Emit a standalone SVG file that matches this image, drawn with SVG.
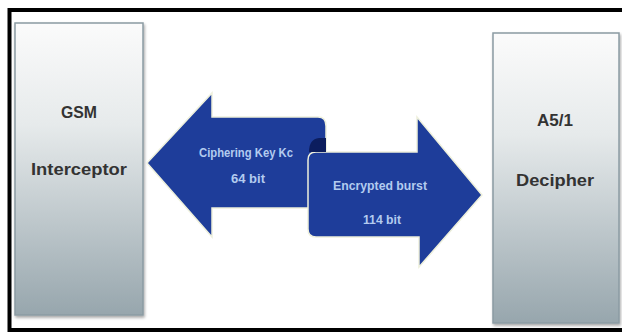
<svg xmlns="http://www.w3.org/2000/svg" width="622" height="332" viewBox="0 0 622 332">
<defs>
<linearGradient id="boxg" x1="0" y1="0" x2="0" y2="1">
<stop offset="0" stop-color="#fbfbfb"/>
<stop offset="0.35" stop-color="#e6eaeb"/>
<stop offset="1" stop-color="#97a6ad"/>
</linearGradient>
<filter id="sh" x="-10%" y="-10%" width="130%" height="130%">
<feGaussianBlur in="SourceAlpha" stdDeviation="1.5"/>
<feOffset dx="1" dy="2"/>
<feComponentTransfer><feFuncA type="linear" slope="0.35"/></feComponentTransfer>
<feMerge><feMergeNode/><feMergeNode in="SourceGraphic"/></feMerge>
</filter>
</defs>
<style>
.box{fill:url(#boxg);stroke:#8b9ba3;stroke-width:1.5;filter:url(#sh)}
.btxt{font-family:"Liberation Sans Narrow","Liberation Sans",Arial,sans-serif;font-size:17px;font-weight:bold;fill:#333;text-anchor:middle}
.arr{fill:#1e3d9a;stroke:#eef0dc;stroke-width:1.5;stroke-linejoin:miter}
.atxt{font-family:"Liberation Sans Narrow","Liberation Sans",Arial,sans-serif;font-size:13px;font-weight:bold;fill:#b3cbef;text-anchor:middle}
</style>
<rect x="0" y="0" width="622" height="332" fill="#ffffff"/>
<rect x="9.5" y="10" width="640" height="320" fill="none" stroke="#000" stroke-width="4"/>
<g id="gsm">
<rect class="box" x="15" y="23" width="128" height="292"/>
<text class="btxt" x="79" y="118" textLength="36" lengthAdjust="spacingAndGlyphs">GSM</text>
<text class="btxt" x="79" y="175" textLength="96" lengthAdjust="spacingAndGlyphs">Interceptor</text>
</g>
<g id="a51">
<rect class="box" x="493" y="33" width="126" height="290"/>
<text class="btxt" x="555" y="126" textLength="36" lengthAdjust="spacingAndGlyphs">A5/1</text>
<text class="btxt" x="555" y="186" textLength="78" lengthAdjust="spacingAndGlyphs">Decipher</text>
</g>
<g id="connectors">
<g id="key">
<path class="arr" d="M147,163 L212,93 L212,117 L318,117 Q326,117 326,126 L326,208 L212,208 L212,237 Z"/>
<text class="atxt" x="246" y="157" textLength="94" lengthAdjust="spacingAndGlyphs">Ciphering Key Kc</text>
<text class="atxt" x="248" y="183" textLength="34" lengthAdjust="spacingAndGlyphs">64 bit</text>
</g>
<g id="burst">
<path class="arr" d="M308,160 Q308,152 316,152 L417,152 L417,117 L482,195 L419,267 L419,237 L316,237 Q308,237 308,229 Z"/>
<path d="M309,152 Q309,139 319,138 L326,138 L326,152 Z" fill="#0c1d5e"/>
<text class="atxt" x="380" y="190" textLength="94" lengthAdjust="spacingAndGlyphs">Encrypted burst</text>
<text class="atxt" x="382" y="224" textLength="38" lengthAdjust="spacingAndGlyphs">114 bit</text>
</g>
</g>
</svg>
